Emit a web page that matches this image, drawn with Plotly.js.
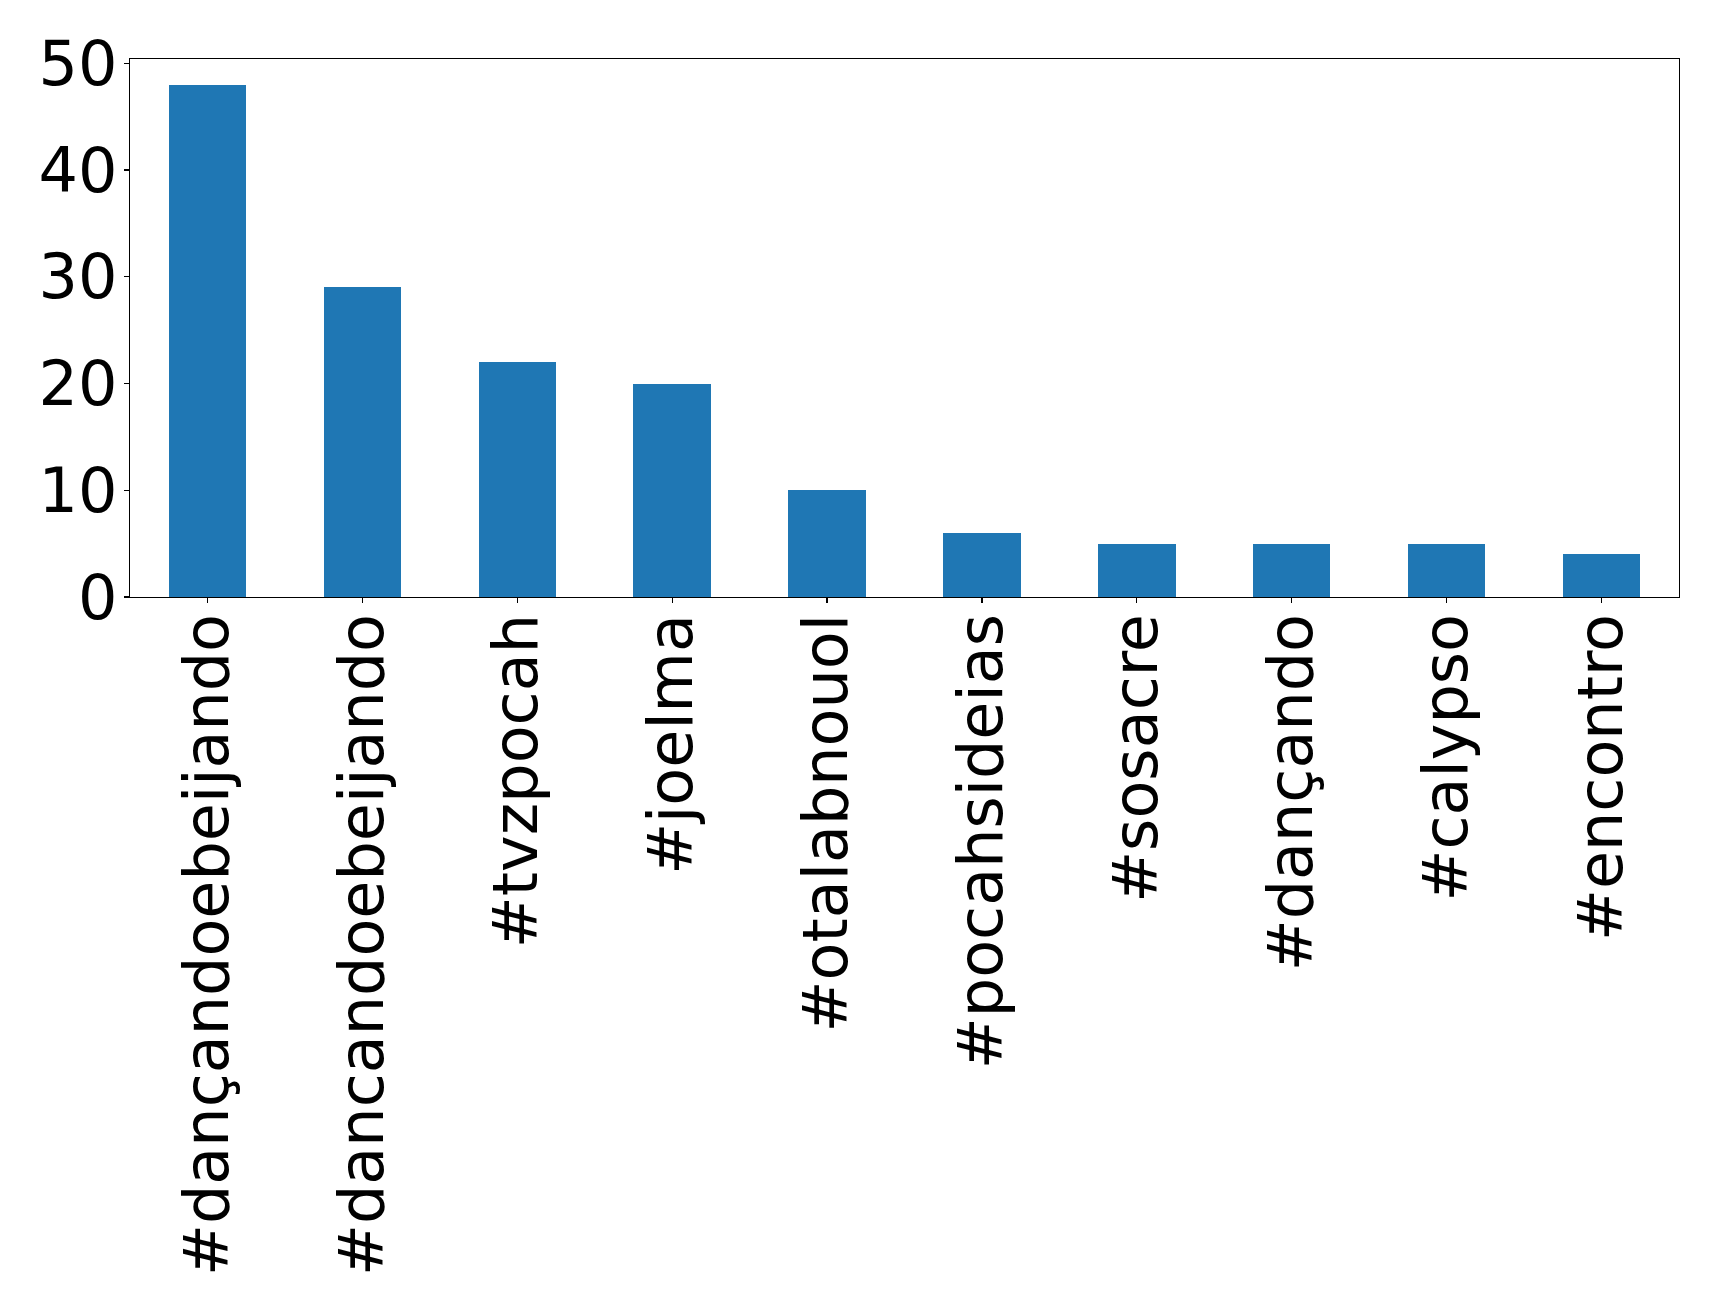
<!DOCTYPE html>
<html>
<head>
<meta charset="utf-8">
<script src="https://cdn.plot.ly/plotly-3.0.1.min.js"></script>
<style>html,body{margin:0;padding:0;background:#fff;}#chart{width:1719px;height:1314px;}</style>
</head>
<body>
<div id="chart"></div>
<script>
const categories = ["#dançandoebeijando", "#dancandoebeijando", "#tvzpocah", "#joelma", "#otalabnouol", "#pocahsideias", "#sosacre", "#dançando", "#calypso", "#encontro"];
const counts = [48, 29, 22, 20, 10, 6, 5, 5, 5, 4];
const yTicks = [0, 10, 20, 30, 40, 50];

const trace = {
  type: "bar",
  x: categories,
  y: counts,
  width: 0.5,
  marker: {color: "#1f77b4", line: {width: 0}},
  hoverinfo: "x+y"
};

const layout = {
  width: 1719,
  height: 1314,
  margin: {l: 129.5, r: 39.7, t: 58.7, b: 717.3, pad: 0},
  paper_bgcolor: "#ffffff",
  plot_bgcolor: "#ffffff",
  showlegend: false,
  font: {family: "DejaVu Sans", size: 62, color: "#000000"},
  xaxis: {
    type: "category",
    range: [-0.5, 9.5],
    tickangle: -90,
    ticks: "outside",
    ticklen: 5,
    tickwidth: 1.2,
    tickcolor: "#000",
    showline: true,
    linecolor: "#000",
    linewidth: 1.2,
    mirror: true,
    showgrid: false,
    zeroline: false,
    ticklabelstandoff: -14,
    tickfont: {family: "DejaVu Sans", size: 62, color: "#000"}
  },
  yaxis: {
    range: [0, 50.4],
    tickvals: yTicks,
    ticktext: yTicks.map(String),
    ticks: "outside",
    ticklen: 5,
    tickwidth: 1.2,
    tickcolor: "#000",
    showline: true,
    linecolor: "#000",
    linewidth: 1.2,
    mirror: true,
    showgrid: false,
    zeroline: false,
    ticklabelstandoff: -6,
    tickfont: {family: "DejaVu Sans", size: 62, color: "#000"}
  },
  bargap: 0
};

Plotly.newPlot("chart", [trace], layout, {displayModeBar: false, staticPlot: true});
</script>
</body>
</html>
